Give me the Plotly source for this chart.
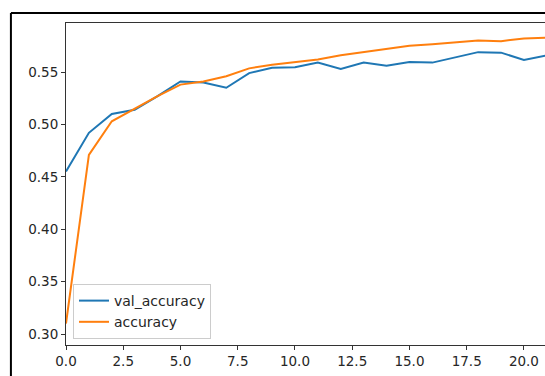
import plotly.graph_objects as go

epochs = list(range(22))
val_accuracy = [0.455, 0.492, 0.510, 0.514, 0.527, 0.541, 0.540, 0.535, 0.549, 0.554,
                0.5545, 0.559, 0.553, 0.559, 0.556, 0.5595, 0.559, 0.564, 0.569, 0.5685,
                0.5615, 0.566]
accuracy = [0.310, 0.471, 0.503, 0.515, 0.527, 0.538, 0.541, 0.546, 0.5535, 0.557,
            0.5595, 0.562, 0.566, 0.569, 0.5725, 0.575, 0.5765, 0.578, 0.580, 0.5795,
            0.582, 0.5828]
x_ticks = [0.0, 2.5, 5.0, 7.5, 10.0, 12.5, 15.0, 17.5, 20.0]
y_ticks = [0.30, 0.35, 0.40, 0.45, 0.50, 0.55]

fig = go.Figure()
fig.add_trace(go.Scatter(x=epochs, y=val_accuracy, mode="lines", name="val_accuracy",
                         line=dict(color="#1f77b4", width=2)))
fig.add_trace(go.Scatter(x=epochs, y=accuracy, mode="lines", name="accuracy",
                         line=dict(color="#ff7f0e", width=2)))

axis_font = dict(family="DejaVu Sans", size=13.5, color="#262626")
fig.update_layout(
    width=545, height=376,
    margin=dict(l=66, r=0, t=23, b=31, autoexpand=False),
    paper_bgcolor="white", plot_bgcolor="white",
    font=axis_font,
    showlegend=True,
    legend=dict(x=0.0146, y=0.0186, xanchor="left", yanchor="bottom",
                bgcolor="rgba(255,255,255,0.8)", bordercolor="#cccccc", borderwidth=1,
                font=dict(family="DejaVu Sans", size=14, color="#262626"),
                tracegroupgap=0, itemwidth=30),
    xaxis=dict(range=[0, 20.92], tickvals=x_ticks, ticktext=[f"{v:.1f}" for v in x_ticks],
               showgrid=False, zeroline=False, showline=True, linecolor="#333333",
               linewidth=1, mirror=True, ticks="outside", ticklen=4, tickcolor="#333333",
               tickfont=axis_font, automargin=False),
    yaxis=dict(range=[0.2895, 0.5968], tickvals=y_ticks, ticktext=[f"{v:.2f}" for v in y_ticks],
               showgrid=False, zeroline=False, showline=True, linecolor="#333333",
               linewidth=1, ticks="outside", ticklen=4, tickcolor="#333333",
               tickfont=axis_font, automargin=False),
    shapes=[
        dict(type="line", xref="paper", yref="paper", x0=-0.115, x1=1.05, y0=1.031, y1=1.031,
             line=dict(color="black", width=2)),
        dict(type="line", xref="paper", yref="paper", x0=-0.115, x1=-0.115, y0=1.031, y1=-0.2,
             line=dict(color="black", width=2)),
    ],
)

fig.write_html("out.html", config={"displayModeBar": False},
               post_script="document.body.style.margin='0';document.body.style.overflow='hidden';")
